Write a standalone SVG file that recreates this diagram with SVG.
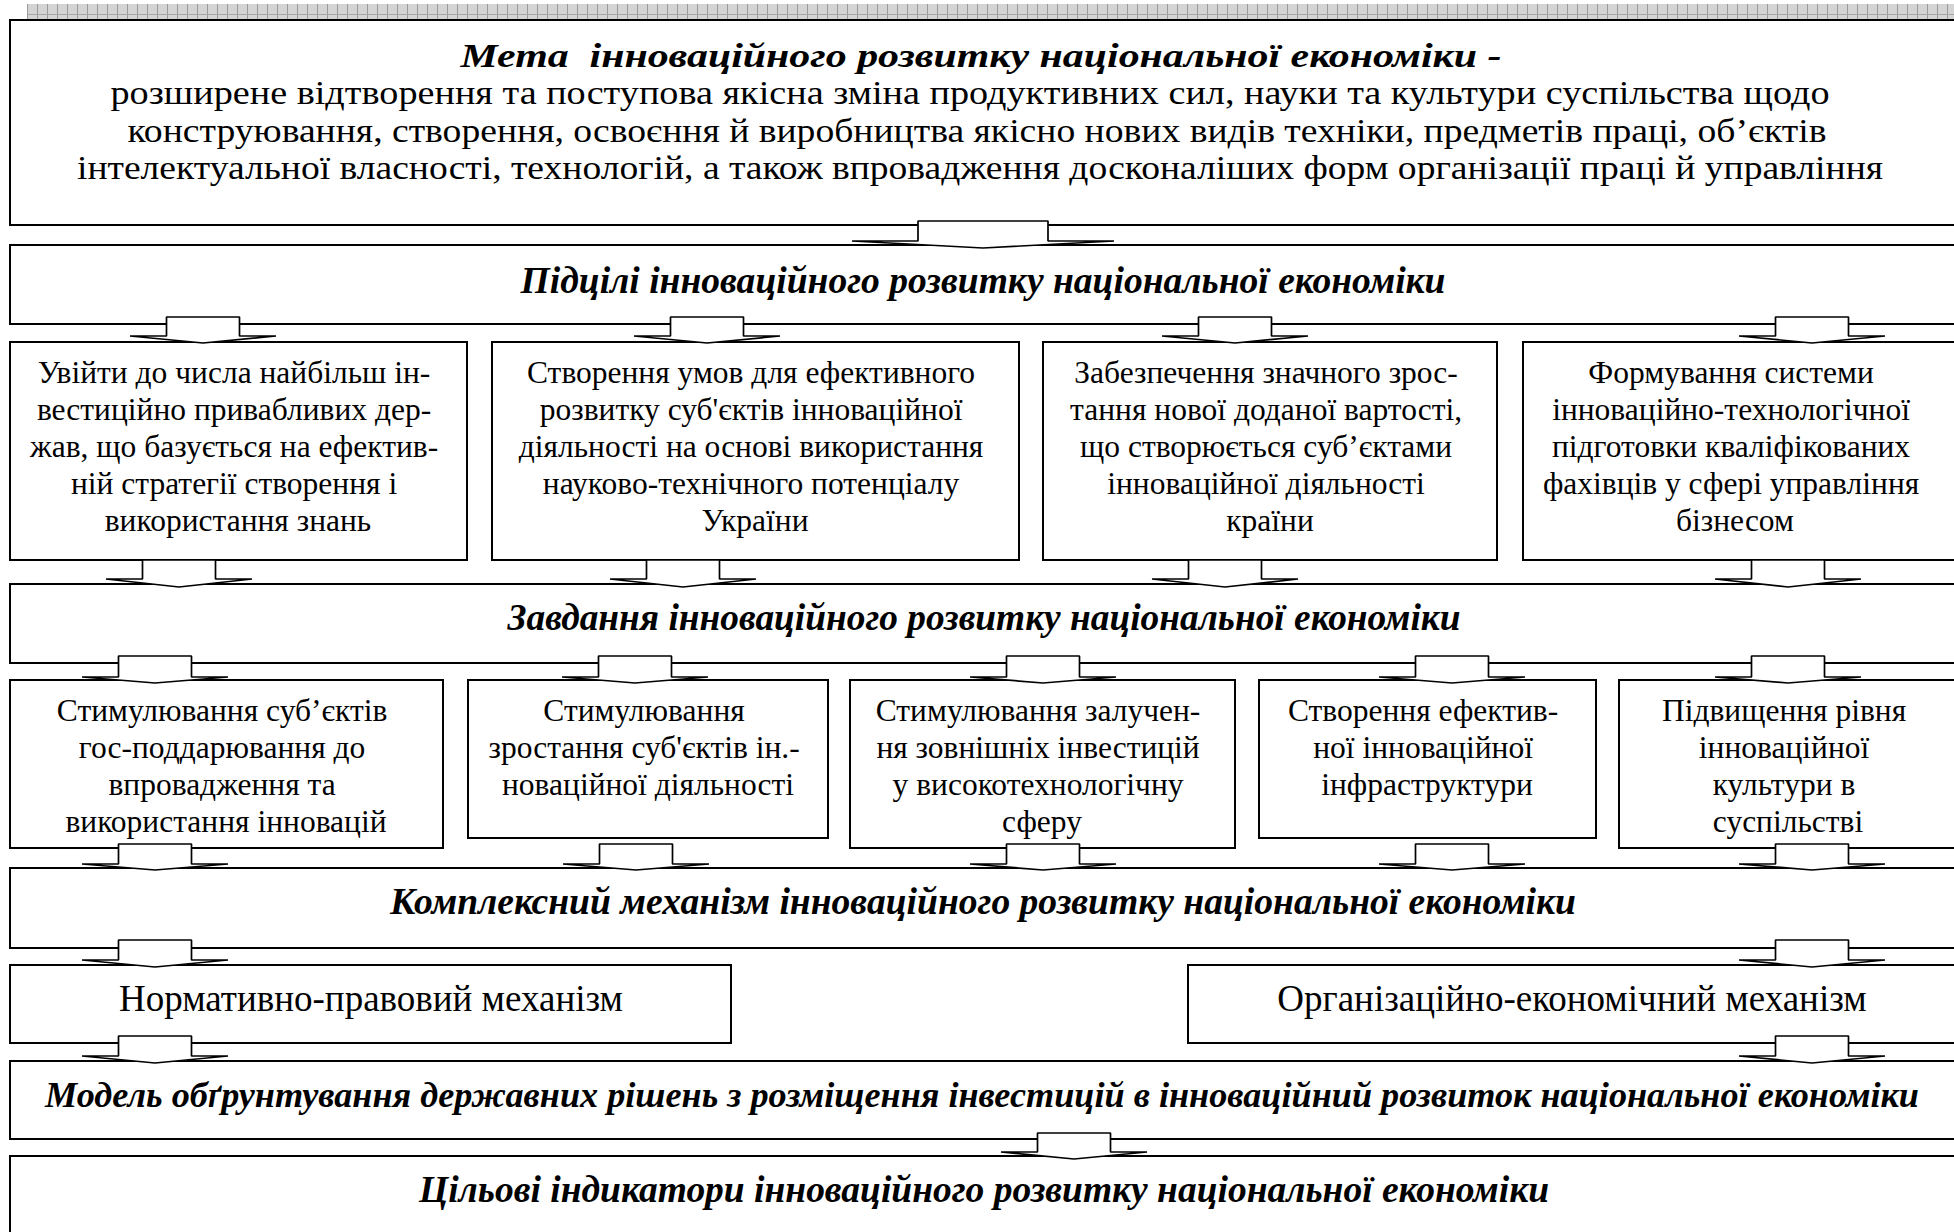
<svg xmlns="http://www.w3.org/2000/svg" width="1954" height="1232" viewBox="0 0 1954 1232">
<defs>
<pattern id="hatch" x="27" y="4" width="10" height="15" patternUnits="userSpaceOnUse">
<rect width="10" height="15" fill="#d4d4d4"/>
<line x1="0.5" y1="0" x2="0.5" y2="15" stroke="#9a9a9a" stroke-width="1"/>
<line x1="0" y1="10.5" x2="10" y2="10.5" stroke="#a8a8a8" stroke-width="1"/>
</pattern>
<style>
.box{fill:#fff;stroke:#000;stroke-width:2}
.arr{fill:#fff;stroke:#000;stroke-width:1.7;stroke-linejoin:bevel}
.h{font-family:"Liberation Serif","Times New Roman",serif;font-weight:bold;font-style:italic;font-size:37px;text-anchor:middle;white-space:pre}
.L{font-family:"Liberation Serif","Times New Roman",serif;font-size:37px;text-anchor:middle}
.t{font-size:34px}
.s{font-family:"Liberation Serif","Times New Roman",serif;font-size:31.5px;text-anchor:middle}
</style>
</defs>
<rect x="27" y="4" width="1927" height="15" fill="url(#hatch)"/>

<g id="goal">
<rect class="box" x="10" y="20" width="1960" height="205"/>
<text class="h t" x="981" y="67" textLength="1041" lengthAdjust="spacingAndGlyphs">Мета  інноваційного розвитку національної економіки -</text>
<text class="L t" x="970" y="104" textLength="1719" lengthAdjust="spacingAndGlyphs">розширене відтворення та поступова якісна зміна продуктивних сил, науки та культури суспільства щодо</text>
<text class="L t" x="977" y="142" textLength="1699" lengthAdjust="spacingAndGlyphs">конструювання, створення, освоєння й виробництва якісно нових видів техніки, предметів праці, об’єктів</text>
<text class="L t" x="980" y="179" textLength="1806" lengthAdjust="spacingAndGlyphs">інтелектуальної власності, технологій, а також впровадження досконаліших форм організації праці й управління</text>
</g>

<g id="subgoals">
<rect class="box" x="10" y="245" width="1960" height="79"/>
<text class="h" x="983" y="293" textLength="925" lengthAdjust="spacingAndGlyphs">Підцілі інноваційного розвитку національної економіки</text>
</g>

<g id="sg1">
<rect class="box" x="10" y="342" width="457" height="218"/>
<text class="s">
<tspan x="238" y="383">Увійти до числа найбільш ін-</tspan>
<tspan x="238" y="420">вестиційно привабливих дер-</tspan>
<tspan x="238" y="457">жав, що базується на ефектив-</tspan>
<tspan x="238" y="494">ній стратегії створення і</tspan>
<tspan x="238" y="531">використання знань</tspan>
</text>
</g>
<g id="sg2">
<rect class="box" x="492" y="342" width="527" height="218"/>
<text class="s">
<tspan x="755" y="383">Створення умов для ефективного</tspan>
<tspan x="755" y="420">розвитку суб'єктів інноваційної</tspan>
<tspan x="755" y="457">діяльності на основі використання</tspan>
<tspan x="755" y="494">науково-технічного потенціалу</tspan>
<tspan x="755" y="531">України</tspan>
</text>
</g>
<g id="sg3">
<rect class="box" x="1043" y="342" width="454" height="218"/>
<text class="s">
<tspan x="1270" y="383">Забезпечення значного зрос-</tspan>
<tspan x="1270" y="420">тання нової доданої вартості,</tspan>
<tspan x="1270" y="457">що створюється суб’єктами</tspan>
<tspan x="1270" y="494">інноваційної діяльності</tspan>
<tspan x="1270" y="531">країни</tspan>
</text>
</g>
<g id="sg4">
<rect class="box" x="1523" y="342" width="450" height="218"/>
<text class="s">
<tspan x="1735" y="383">Формування системи</tspan>
<tspan x="1735" y="420">інноваційно-технологічної</tspan>
<tspan x="1735" y="457">підготовки кваліфікованих</tspan>
<tspan x="1735" y="494">фахівців у сфері управління</tspan>
<tspan x="1735" y="531">бізнесом</tspan>
</text>
</g>

<g id="tasks">
<rect class="box" x="10" y="584" width="1960" height="79"/>
<text class="h" x="984" y="630" textLength="953" lengthAdjust="spacingAndGlyphs">Завдання інноваційного розвитку національної економіки</text>
</g>

<g id="t1">
<rect class="box" x="10" y="680" width="433" height="168"/>
<text class="s">
<tspan x="226" y="721">Стимулювання суб’єктів</tspan>
<tspan x="226" y="758">гос-поддарювання до</tspan>
<tspan x="226" y="795">впровадження та</tspan>
<tspan x="226" y="832">використання інновацій</tspan>
</text>
</g>
<g id="t2">
<rect class="box" x="468" y="680" width="360" height="158"/>
<text class="s">
<tspan x="648" y="721">Стимулювання</tspan>
<tspan x="648" y="758">зростання суб'єктів ін.-</tspan>
<tspan x="648" y="795">новаційної діяльності</tspan>
</text>
</g>
<g id="t3">
<rect class="box" x="850" y="680" width="385" height="168"/>
<text class="s">
<tspan x="1042" y="721">Стимулювання залучен-</tspan>
<tspan x="1042" y="758">ня зовнішніх інвестицій</tspan>
<tspan x="1042" y="795">у високотехнологічну</tspan>
<tspan x="1042" y="832">сферу</tspan>
</text>
</g>
<g id="t4">
<rect class="box" x="1259" y="680" width="337" height="158"/>
<text class="s">
<tspan x="1427" y="721">Створення ефектив-</tspan>
<tspan x="1427" y="758">ної інноваційної</tspan>
<tspan x="1427" y="795">інфраструктури</tspan>
</text>
</g>
<g id="t5">
<rect class="box" x="1619" y="680" width="350" height="168"/>
<text class="s">
<tspan x="1788" y="721">Підвищення рівня</tspan>
<tspan x="1788" y="758">інноваційної</tspan>
<tspan x="1788" y="795">культури в</tspan>
<tspan x="1788" y="832">суспільстві</tspan>
</text>
</g>

<g id="complex">
<rect class="box" x="10" y="868" width="1960" height="80"/>
<text class="h" x="983" y="914" textLength="1186" lengthAdjust="spacingAndGlyphs">Комплексний механізм інноваційного розвитку національної економіки</text>
</g>

<g id="legal">
<rect class="box" x="10" y="965" width="721" height="78"/>
<text class="L" x="371" y="1011">Нормативно-правовий механізм</text>
</g>
<g id="orgecon">
<rect class="box" x="1188" y="965" width="790" height="78"/>
<text class="L" x="1572" y="1011">Організаційно-економічний механізм</text>
</g>

<g id="model">
<rect class="box" x="10" y="1061" width="1960" height="78"/>
<text class="h" x="982" y="1107" style="font-size:35px" textLength="1874" lengthAdjust="spacingAndGlyphs">Модель обґрунтування державних рішень з розміщення інвестицій в інноваційний розвиток національної економіки</text>
</g>

<g id="indicators">
<rect class="box" x="10" y="1156" width="1960" height="120"/>
<text class="h" x="984" y="1202" textLength="1130" lengthAdjust="spacingAndGlyphs">Цільові індикатори інноваційного розвитку національної економіки</text>
</g>

<g id="connectors">
<path class="arr" d="M918,221 H1048 V241 H1114 L983,248 L852,241 H918 Z"/>
<path class="arr" d="M166.5,317 H239.5 V336 H276 L203,343 L130,336 H166.5 Z"/>
<path class="arr" d="M670.5,317 H743.5 V336 H780 L707,343 L634,336 H670.5 Z"/>
<path class="arr" d="M1198.5,317 H1271.5 V336 H1308 L1235,343 L1162,336 H1198.5 Z"/>
<path class="arr" d="M1775.5,317 H1848.5 V336 H1885 L1812,343 L1739,336 H1775.5 Z"/>
<path class="arr" d="M142.5,560 H215.5 V579 H252 L179,587 L106,579 H142.5 Z"/>
<path class="arr" d="M646.5,560 H719.5 V579 H756 L683,587 L610,579 H646.5 Z"/>
<path class="arr" d="M1188.5,560 H1261.5 V579 H1298 L1225,587 L1152,579 H1188.5 Z"/>
<path class="arr" d="M1751.5,560 H1824.5 V579 H1861 L1788,587 L1715,579 H1751.5 Z"/>
<path class="arr" d="M118.5,656 H191.5 V677 H228 L155,683 L82,677 H118.5 Z"/>
<path class="arr" d="M598.5,656 H671.5 V677 H708 L635,683 L562,677 H598.5 Z"/>
<path class="arr" d="M1006.5,656 H1079.5 V677 H1116 L1043,683 L970,677 H1006.5 Z"/>
<path class="arr" d="M1415.5,656 H1488.5 V677 H1525 L1452,683 L1379,677 H1415.5 Z"/>
<path class="arr" d="M1751.5,656 H1824.5 V677 H1861 L1788,683 L1715,677 H1751.5 Z"/>
<path class="arr" d="M118.5,844 H191.5 V864 H228 L155,870 L82,864 H118.5 Z"/>
<path class="arr" d="M599.5,844 H672.5 V864 H709 L636,870 L563,864 H599.5 Z"/>
<path class="arr" d="M1006.5,844 H1079.5 V864 H1116 L1043,870 L970,864 H1006.5 Z"/>
<path class="arr" d="M1415.5,844 H1488.5 V864 H1525 L1452,870 L1379,864 H1415.5 Z"/>
<path class="arr" d="M1775.5,844 H1848.5 V864 H1885 L1812,870 L1739,864 H1775.5 Z"/>
<path class="arr" d="M118.5,940 H191.5 V960 H228 L155,967 L82,960 H118.5 Z"/>
<path class="arr" d="M1775.5,940 H1848.5 V960 H1885 L1812,967 L1739,960 H1775.5 Z"/>
<path class="arr" d="M118.5,1036 H191.5 V1056 H228 L155,1063 L82,1056 H118.5 Z"/>
<path class="arr" d="M1775.5,1036 H1848.5 V1056 H1885 L1812,1063 L1739,1056 H1775.5 Z"/>
<path class="arr" d="M1037.5,1133 H1110.5 V1152 H1147 L1074,1159 L1001,1152 H1037.5 Z"/>
</g>
</svg>
